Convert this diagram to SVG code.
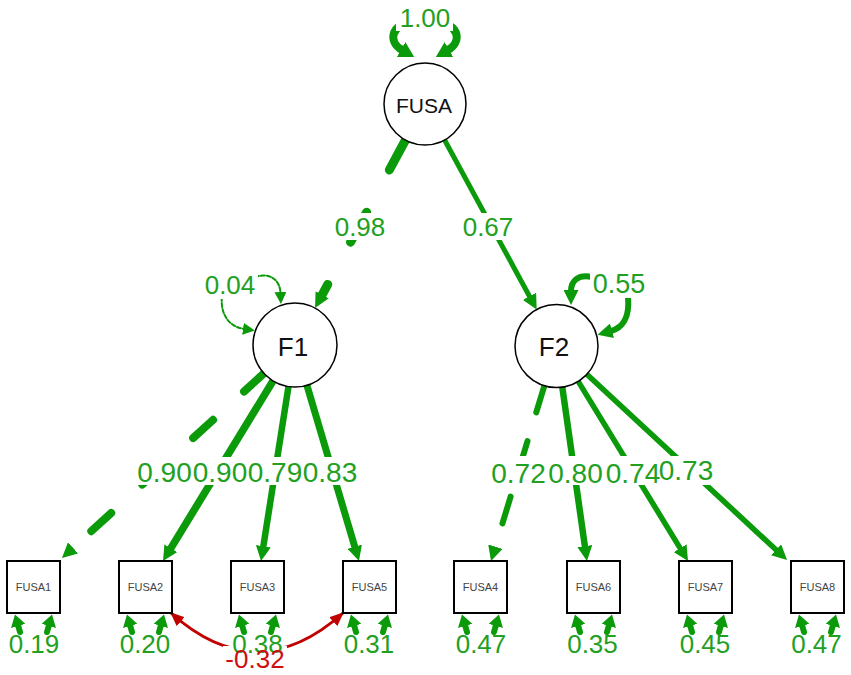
<svg xmlns="http://www.w3.org/2000/svg" width="851" height="675" viewBox="0 0 851 675">
<defs>
<style>
.lat{fill:#fff;stroke:#000;stroke-width:1.5}
.man{fill:#fff;stroke:#000;stroke-width:2}
.e{fill:none;stroke:#0a9a0a;stroke-linecap:round}
.r{fill:none;stroke:#c00000;stroke-width:3}
.bg{fill:#fff}
.lbl{font-family:"Liberation Sans",Arial,sans-serif;fill:#22a022;text-anchor:middle}
.red{font-family:"Liberation Sans",Arial,sans-serif;fill:#cc1010;text-anchor:middle;font-size:26px}
.nt{font-family:"Liberation Sans",Arial,sans-serif;fill:#111;text-anchor:middle}
.mt{font-family:"Liberation Sans",Arial,sans-serif;font-size:11px;fill:#444;text-anchor:middle}
</style>
<marker id="ah" markerUnits="userSpaceOnUse" viewBox="0 0 15 15" refX="1" refY="7.5" markerWidth="15" markerHeight="15" orient="auto"><path d="M0,0 L15,7.5 L0,15 Z" fill="#0a9a0a"/></marker>
<marker id="ab" markerUnits="userSpaceOnUse" viewBox="0 0 15 17" refX="1" refY="8.5" markerWidth="15" markerHeight="17" orient="auto"><path d="M0,0 L15,8.5 L0,17 Z" fill="#0a9a0a"/></marker>
<marker id="as" markerUnits="userSpaceOnUse" viewBox="0 0 12 15" refX="1" refY="7.5" markerWidth="12" markerHeight="15" orient="auto"><path d="M0,0 L12,7.5 L0,15 Z" fill="#0a9a0a"/></marker>
<marker id="at" markerUnits="userSpaceOnUse" viewBox="0 0 12 12" refX="1" refY="6" markerWidth="12" markerHeight="12" orient="auto"><path d="M0,0 L12,6 L0,12 Z" fill="#0a9a0a"/></marker>
<marker id="ar" markerUnits="userSpaceOnUse" viewBox="0 0 14 12" refX="13" refY="6" markerWidth="14" markerHeight="12" orient="auto-start-reverse"><path d="M0,0 L14,6 L0,12 Z" fill="#c00000"/></marker>
<g id="res">
<path class="e" stroke-width="6" marker-end="url(#as)" d="M13,71 L11,64"/>
<path class="e" stroke-width="6" marker-end="url(#as)" d="M40,71 L42,64"/>
</g>
</defs>
<rect width="851" height="675" fill="#fff"/>

<g id="connectors">
<path class="e" stroke-width="9" stroke-dasharray="34 48" marker-end="url(#ah)" d="M405.5,140 L321.7,295.7"/>
<path class="e" stroke-width="5" marker-end="url(#ah)" d="M444.6,140 L530,297.2"/>
<path class="e" stroke-width="8" stroke-dasharray="27 42" marker-end="url(#ah)" d="M264,373.3 L72.3,548.5"/>
<path class="e" stroke-width="7.5" marker-end="url(#ah)" d="M273.1,380.8 L170.3,549.1"/>
<path class="e" stroke-width="6.5" marker-end="url(#ah)" d="M288.5,386.5 L263.2,547.2"/>
<path class="e" stroke-width="7" marker-end="url(#ah)" d="M306.9,385.3 L355,547.6"/>
<path class="e" stroke-width="6" stroke-dasharray="28 30" marker-end="url(#ah)" d="M544.4,385.7 L495.1,547.6"/>
<path class="e" stroke-width="6.5" marker-end="url(#ah)" d="M562.3,387.1 L585,547.1"/>
<path class="e" stroke-width="5.5" marker-end="url(#ah)" d="M578.2,381.4 L680.7,549.1"/>
<path class="e" stroke-width="5.5" marker-end="url(#ah)" d="M586.8,374.3 L776.8,550.5"/>
<!-- variance loops -->
<path class="e" stroke-width="8" marker-end="url(#ab)" d="M414,22 C390,24 388,42 402,50"/>
<path class="e" stroke-width="8" marker-end="url(#ab)" d="M436,22 C460,24 462,42 448,50"/>
<path class="e" stroke-width="2" stroke-dasharray="4 2" marker-end="url(#at)" d="M255,277 C270,272 280,280 280.5,293"/>
<path class="e" stroke-width="2" stroke-dasharray="4 2" marker-end="url(#at)" d="M222,297 C220,315 230,327 244,329"/>
<path class="e" stroke-width="6" marker-end="url(#ah)" d="M592,277 C578,274 571,281 571,291"/>
<path class="e" stroke-width="6" marker-end="url(#ah)" d="M628,297 C630,318 622,328 611,331"/>
<!-- covariance -->
<path class="r" marker-start="url(#ar)" marker-end="url(#ar)" d="M171,613 Q257,690 343,613"/>
</g>

<g id="edge-labels">
<rect class="bg" x="396" y="5" width="57" height="26"/>
<rect class="bg" x="333" y="213" width="54" height="27"/>
<rect class="bg" x="461" y="213" width="54" height="27"/>
<rect class="bg" x="203" y="272" width="55" height="27"/>
<rect class="bg" x="590" y="271" width="58" height="27"/>
<rect class="bg" x="137" y="457" width="221" height="28"/>
<rect class="bg" x="491" y="456" width="222" height="29"/>
<text class="lbl" x="425" y="27" font-size="26">1.00</text>
<text class="lbl" x="360" y="236" font-size="26">0.98</text>
<text class="lbl" x="488" y="236" font-size="26">0.67</text>
<text class="lbl" x="230" y="294" font-size="26">0.04</text>
<text class="lbl" x="619" y="293" font-size="27">0.55</text>
<text class="lbl" x="164.5" y="482" font-size="28">0.90</text>
<text class="lbl" x="220" y="482" font-size="28">0.90</text>
<text class="lbl" x="275" y="482" font-size="28">0.79</text>
<text class="lbl" x="330" y="482" font-size="28">0.83</text>
<text class="lbl" x="518.5" y="483" font-size="28">0.72</text>
<text class="lbl" x="575.5" y="483" font-size="28">0.80</text>
<text class="lbl" x="633" y="483" font-size="28">0.74</text>
<text class="lbl" x="686" y="480" font-size="28">0.73</text>
</g>

<g id="FUSA"><circle class="lat" cx="425" cy="104" r="41"/><text class="nt" x="424" y="113" font-size="21">FUSA</text></g>
<g id="F1"><circle class="lat" cx="295" cy="345" r="42"/><text class="nt" x="293" y="356" font-size="26">F1</text></g>
<g id="F2"><circle class="lat" cx="556.5" cy="346" r="41.5"/><text class="nt" x="554" y="356" font-size="26">F2</text></g>

<g id="FUSA1"><rect class="man" x="7" y="561" width="53" height="52"/><text class="mt" x="33.5" y="591">FUSA1</text><use href="#res" x="7" y="561"/><text class="lbl" x="34" y="653" font-size="26">0.19</text></g>
<g id="FUSA2"><rect class="man" x="119" y="561" width="53" height="52"/><text class="mt" x="145.5" y="591">FUSA2</text><use href="#res" x="119" y="561"/><text class="lbl" x="145" y="653" font-size="26">0.20</text></g>
<g id="FUSA3"><rect class="man" x="231" y="561" width="53" height="52"/><text class="mt" x="257.5" y="591">FUSA3</text><use href="#res" x="231" y="561"/></g>
<g id="FUSA5"><rect class="man" x="343" y="561" width="53" height="52"/><text class="mt" x="369.5" y="591">FUSA5</text><use href="#res" x="343" y="561"/><text class="lbl" x="369" y="653" font-size="26">0.31</text></g>
<g id="FUSA4"><rect class="man" x="454" y="561" width="53" height="52"/><text class="mt" x="480.5" y="591">FUSA4</text><use href="#res" x="454" y="561"/><text class="lbl" x="481" y="653" font-size="26">0.47</text></g>
<g id="FUSA6"><rect class="man" x="567" y="561" width="53" height="52"/><text class="mt" x="593.5" y="591">FUSA6</text><use href="#res" x="567" y="561"/><text class="lbl" x="592.5" y="653" font-size="26">0.35</text></g>
<g id="FUSA7"><rect class="man" x="679" y="561" width="53" height="52"/><text class="mt" x="705.5" y="591">FUSA7</text><use href="#res" x="679" y="561"/><text class="lbl" x="705" y="653" font-size="26">0.45</text></g>
<g id="FUSA8"><rect class="man" x="791" y="561" width="53" height="52"/><text class="mt" x="817.5" y="591">FUSA8</text><use href="#res" x="791" y="561"/><text class="lbl" x="816.5" y="653" font-size="26">0.47</text></g>

<g id="cov-label">
<rect class="bg" x="223" y="646" width="64" height="26"/>
<text class="lbl" x="257.5" y="653" font-size="26">0.38</text>
<text class="red" x="255" y="668">-0.32</text>
</g>
</svg>
